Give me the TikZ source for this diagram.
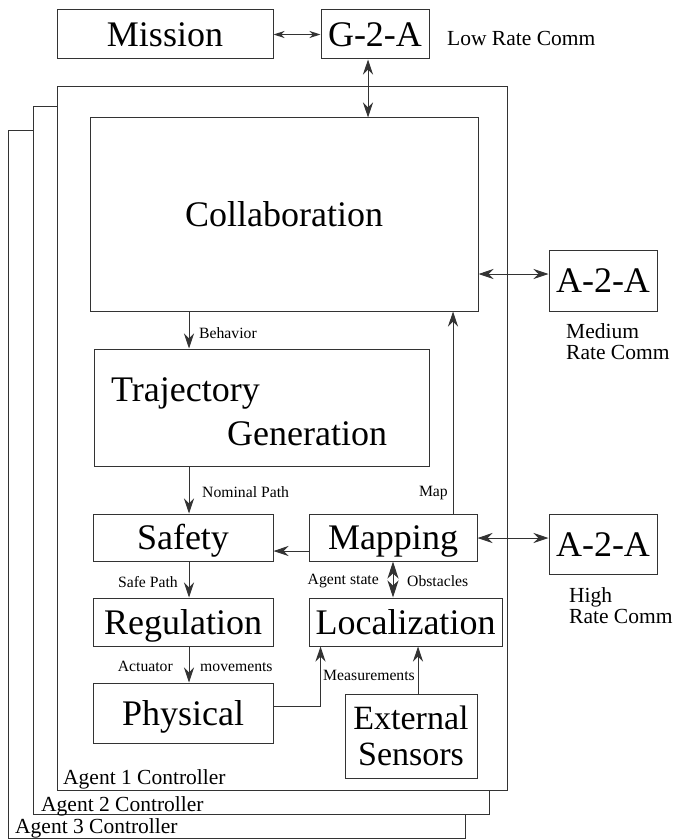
\documentclass[tikz,border=0pt]{standalone}
\usepackage{fontspec}
\setmainfont{Liberation Serif}
\usetikzlibrary{arrows.meta}
\begin{document}
\begin{tikzpicture}[x=1pt,y=-1pt,
  ln/.style={draw=black!80, line width=1pt},
  bigbox/.style={ln, rectangle, inner sep=0pt, font=\fontsize{36}{40}\selectfont, text height=24pt, text depth=0pt},
  agentbox/.style={ln, fill=white},
  arr/.style={ln, -{Stealth[length=15pt,width=10pt,inset=5pt]}},
  darr/.style={ln, {Stealth[length=15pt,width=10pt,inset=5pt]}-{Stealth[length=15pt,width=10pt,inset=5pt]}},
  sdarr/.style={ln, {Stealth[length=11pt,width=7pt,inset=3.5pt]}-{Stealth[length=11pt,width=7pt,inset=3.5pt]}},
  small/.style={font=\fontsize{15.7}{18}\selectfont, inner sep=0pt},
  comm/.style={font=\fontsize{21.5}{21}\selectfont, inner sep=0pt, align=left},
]
\useasboundingbox (0,0) rectangle (675,840);

% agent controller boxes
\draw[agentbox] (8,131) rectangle (465,838);
\node[comm, anchor=west] (ag3) at (15,828) {Agent 3 Controller};
\draw[agentbox] (33,107) rectangle (489,814);
\node[comm, anchor=west] (ag2) at (41,806) {Agent 2 Controller};
\draw[agentbox] (57,87) rectangle (507,790);
\node[comm, anchor=west] (ag1) at (63,779) {Agent 1 Controller};

% boxes
\node[bigbox, minimum width=216pt, minimum height=49pt] (mission) at (165,34.5) {Mission};
\node[bigbox, minimum width=108pt, minimum height=49pt] (g2a) at (375,34.5) {G-2-A};
\node[comm, anchor=west] (low) at (447,38) {Low Rate Comm};

\node[bigbox, minimum width=388pt, minimum height=193pt] (collab) at (284,214.5) {Collaboration};
\node[bigbox, minimum width=108pt, minimum height=61pt] (a2am) at (603,280.5) {A-2-A};
\node[comm, anchor=west] (medium) at (566,342) {Medium\\Rate Comm};

\node[ln, rectangle, inner sep=0pt, minimum width=335pt, minimum height=117pt] (traj) at (261.5,407.5) {};
\node[font=\fontsize{36}{44}\selectfont, inner sep=0pt, align=left, anchor=west] (trajtxt) at (111,412) {Trajectory\\\hspace*{116pt}Generation};

\node[bigbox, minimum width=180pt, minimum height=47pt] (safety) at (183,537.5) {Safety};
\node[bigbox, minimum width=168pt, minimum height=47pt] (mapping) at (393,537.5) {Mapping};
\node[bigbox, minimum width=108pt, minimum height=60pt] (a2ah) at (603,544) {A-2-A};
\node[comm, anchor=west] (high) at (569,606) {High\\Rate Comm};

\node[bigbox, minimum width=180pt, minimum height=48pt] (reg) at (183,622) {Regulation};
\node[bigbox, minimum width=193pt, minimum height=48pt] (loc) at (405.5,622) {Localization};
\node[bigbox, minimum width=180pt, minimum height=60pt] (phys) at (183,713) {Physical};
\node[ln, rectangle, inner sep=0pt, minimum width=132pt, minimum height=84pt, align=center, font=\fontsize{34}{36}\selectfont] (ext) at (411,736) {External\\Sensors};

% helper coordinates
\coordinate (colx) at (189,0);
\coordinate (gx) at (368,0);
\coordinate (my) at (0,274);
\coordinate (sy) at (0,551);
\coordinate (hy) at (0,538);

% connectors
\draw[sdarr] (mission.east) -- (g2a.west);
\draw[darr] (g2a.south -| gx) -- (collab.north -| gx);
\draw[darr] (collab.east |- my) -- (a2am.west |- my);
\draw[arr] (collab.south -| colx) -- (traj.north -| colx);
\draw[arr] (traj.south -| colx) -- (safety.north -| colx);
\draw[arr] ([xshift=60pt]mapping.north) -- ([xshift=60pt]mapping.north |- collab.south);
\draw[arr] (mapping.west |- sy) -- (safety.east |- sy);
\draw[darr] (mapping.east |- hy) -- (a2ah.west |- hy);
\draw[arr] (safety.south -| colx) -- (reg.north -| colx);
\draw[ln, {Stealth[length=17pt,width=11pt,inset=5pt]}-{Stealth[length=17pt,width=11pt,inset=5pt]}] (mapping.south) -- (mapping.south |- loc.north);
\draw[arr] (reg.south -| colx) -- (phys.north -| colx);
\draw[arr] ([yshift=7pt]phys.east) -| ([xshift=12pt]loc.south west);
\draw[arr] ([xshift=7pt]ext.north) -- ([xshift=7pt]ext.north |- loc.south);

% labels
\node[small, anchor=west] (lbeh) at (199,333) {Behavior};
\node[small, anchor=west] (lnom) at (202,492) {Nominal Path};
\node[small, anchor=east] (lmap) at (448,493) {Map};
\node[small, anchor=east] (lsafe) at (178,582) {Safe Path};
\node[small, anchor=east] (lagst) at (379,581) {Agent state};
\node[small, anchor=west] (lobs) at (407,581) {Obstacles};
\node[small, anchor=east] (lact) at (173,666) {Actuator};
\node[small, anchor=west] (lmov) at (200,667) {movements};
\node[small, anchor=east] (lmeas) at (415,675) {Measurements};
\end{tikzpicture}
\end{document}
